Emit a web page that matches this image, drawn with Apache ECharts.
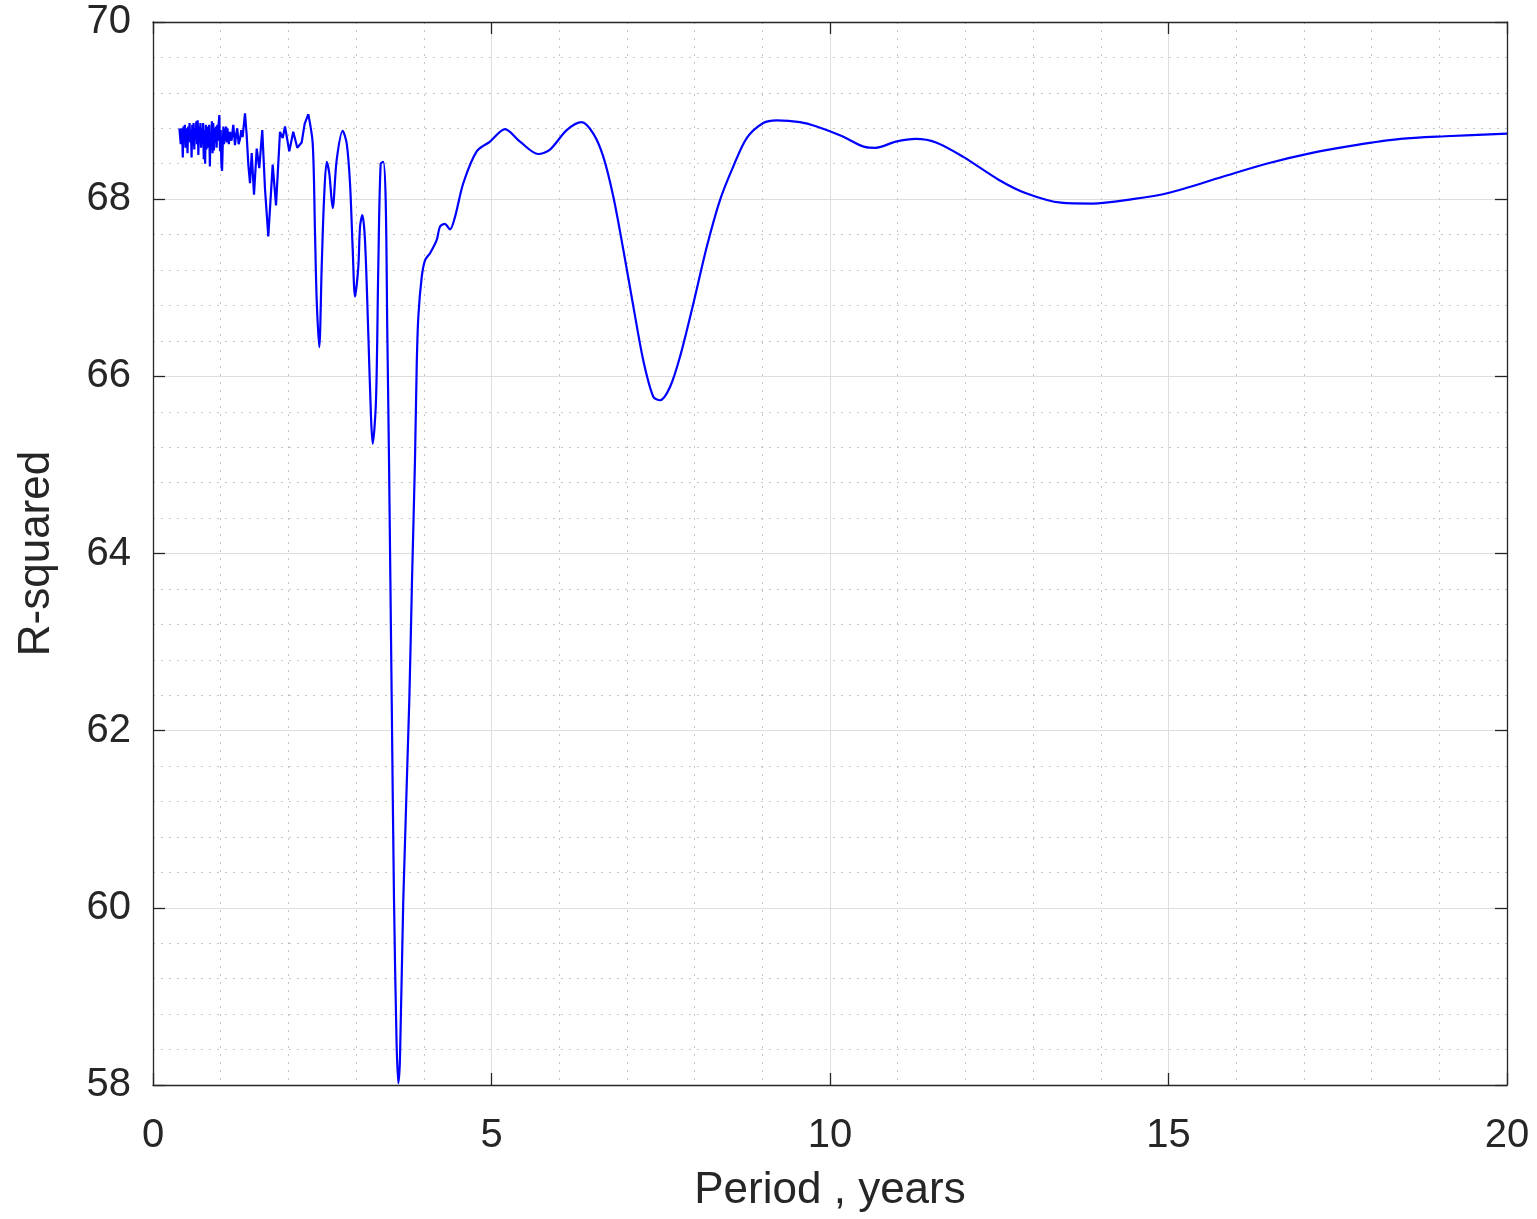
<!DOCTYPE html>
<html>
<head>
<meta charset="utf-8">
<script src="https://cdn.jsdelivr.net/npm/echarts@6/dist/echarts.min.js"></script>
<style>
html,body{margin:0;padding:0;background:#fff;}
#chart{width:1537px;height:1219px;}
</style>
</head>
<body>
<div id="chart"></div>
<script>
// Short-period (noisy) part of the curve: period (years) and R-squared
const noisyPeriod = [0.39,0.40,0.41,0.42,0.43,0.44,0.45,0.46,0.47,0.48,0.49,0.50,0.51,0.52,0.53,0.54,0.55,0.56,0.57,0.58,0.59,0.60,0.61,0.62,0.63,0.64,0.65,0.66,0.67,0.68,0.69,0.70,0.71,0.72,0.73,0.74,0.75,0.76,0.77,0.78,0.79,0.80,0.81,0.82,0.83,0.84,0.85,0.86,0.87,0.88,0.89,0.90,0.91,0.92,0.93,0.94,0.95,0.96,0.97,0.98,0.99,1.00,1.01,1.02,1.03,1.04,1.05,1.06,1.07,1.08,1.09,1.10,1.11,1.12,1.137,1.16,1.186,1.211,1.23,1.245,1.265,1.285,1.305,1.324,1.359,1.384,1.408,1.433,1.458,1.492,1.532,1.570,1.614,1.654,1.703,1.768,1.817,1.876,1.916,1.950,2.013,2.072,2.131,2.196,2.24,2.294];
const noisyR2 = [68.80,68.78,68.62,68.80,68.76,68.47,68.82,68.70,68.84,68.58,68.80,68.74,68.52,68.82,68.66,68.86,68.64,68.78,68.47,68.84,68.60,68.86,68.56,68.80,68.70,68.88,68.62,68.89,68.50,68.82,68.64,68.86,68.58,68.80,68.66,68.86,68.45,68.78,68.40,68.84,68.56,68.82,68.68,68.58,68.84,68.37,68.76,68.62,68.88,68.52,68.86,68.55,68.80,68.64,68.82,68.58,68.84,68.66,68.86,68.95,68.54,68.78,68.40,68.32,68.60,68.82,68.62,68.80,68.66,68.82,68.64,68.80,68.70,68.62,68.76,68.66,68.84,68.61,68.74,68.80,68.62,68.68,68.78,68.70,68.97,68.72,68.39,68.18,68.52,68.05,68.57,68.35,68.78,68.12,67.58,68.39,67.93,68.76,68.69,68.82,68.54,68.76,68.58,68.64,68.85,68.96];
// Longer-period (smooth) part of the curve
const smoothPeriod = [2.294,2.359,2.393,2.418,2.456,2.492,2.526,2.566,2.604,2.654,2.713,2.802,2.861,2.910,2.950,2.984,3.033,3.058,3.092,3.131,3.180,3.220,3.245,3.294,3.328,3.363,3.402,3.437,3.461,3.486,3.526,3.560,3.597,3.623,3.648,3.697,3.786,3.826,3.870,3.895,3.919,3.969,4.018,4.092,4.191,4.239,4.31,4.387,4.461,4.583,4.781,4.978,5.199,5.421,5.691,5.864,6.111,6.332,6.504,6.651,6.799,6.947,7.095,7.242,7.390,7.489,7.637,7.784,7.981,8.179,8.375,8.572,8.770,9.015,9.213,9.557,9.803,10.182,10.511,10.677,10.973,11.270,11.566,11.963,12.490,12.886,13.412,13.874,14.468,14.996,15.787,16.446,17.105,17.765,18.426,19.084,20.0];
const smoothR2 = [68.96,68.63,67.62,66.86,66.33,67.24,67.99,68.42,68.29,67.90,68.44,68.77,68.63,68.18,67.43,66.90,67.24,67.69,67.82,67.54,66.49,65.54,65.24,65.73,67.24,68.40,68.42,67.99,66.49,65.06,62.35,60.09,58.51,58.02,58.30,60.09,62.35,63.70,65.06,66.11,66.67,67.12,67.31,67.39,67.54,67.69,67.72,67.66,67.80,68.18,68.54,68.65,68.79,68.65,68.51,68.56,68.78,68.87,68.74,68.48,68.03,67.43,66.79,66.18,65.77,65.73,65.88,66.22,66.82,67.46,67.99,68.37,68.69,68.86,68.89,68.87,68.82,68.71,68.59,68.58,68.65,68.68,68.64,68.48,68.22,68.07,67.96,67.95,68.00,68.07,68.25,68.40,68.52,68.61,68.68,68.71,68.74];
const xTicks = [0,5,10,15,20];
const yTicks = [58,60,62,64,66,68,70];
const xTitle = 'Period , years';
const yTitle = 'R-squared';

const zip = (a,b) => a.map((v,i)=>[v,b[i]]);
const axisColor = '#262626';
const font = 'Liberation Sans, Arial, Helvetica, sans-serif';
const majorGrid = {show:true, lineStyle:{color:'#dedede', width:1, type:'solid'}};
const minorGrid = {show:true, lineStyle:{color:'#c4c4c4', width:1, type:[2,6]}};

const chart = echarts.init(document.getElementById('chart'), null, {renderer:'canvas'});
const xBase = {
  type:'value', min:xTicks[0], max:xTicks[xTicks.length-1], interval:xTicks[1]-xTicks[0],
  axisLine:{show:true, onZero:false, lineStyle:{color:axisColor, width:1.3}},
  axisTick:{show:true, inside:true, length:12, lineStyle:{color:axisColor, width:1.3}},
  minorTick:{show:false, splitNumber:5},
};
const yBase = {
  type:'value', min:yTicks[0], max:yTicks[yTicks.length-1], interval:yTicks[1]-yTicks[0],
  axisLine:{show:true, onZero:false, lineStyle:{color:axisColor, width:1.3}},
  axisTick:{show:true, inside:true, length:12, lineStyle:{color:axisColor, width:1.3}},
  minorTick:{show:false, splitNumber:5},
};
chart.setOption({
  animation:false,
  backgroundColor:'#ffffff',
  grid:{left:153, right:30, top:22, bottom:134, containLabel:false},
  xAxis:[
    Object.assign({}, xBase, {
      position:'bottom',
      name:xTitle, nameLocation:'middle', nameGap:84,
      nameTextStyle:{fontFamily:font, fontSize:44, color:axisColor},
      axisLabel:{show:true, margin:31, fontFamily:font, fontSize:40, color:axisColor},
      splitLine:majorGrid,
      minorSplitLine:minorGrid,
    }),
    Object.assign({}, xBase, {
      position:'top', axisLabel:{show:false}, splitLine:{show:false}, minorSplitLine:{show:false}
    })
  ],
  yAxis:[
    Object.assign({}, yBase, {
      position:'left',
      name:yTitle, nameLocation:'middle', nameGap:94, nameRotate:90,
      nameTextStyle:{fontFamily:font, fontSize:44, color:axisColor},
      axisLabel:{show:true, margin:22, fontFamily:font, fontSize:40, color:axisColor, padding:[6,0,0,0]},
      splitLine:majorGrid,
      minorSplitLine:minorGrid,
    }),
    Object.assign({}, yBase, {
      position:'right', axisLabel:{show:false}, splitLine:{show:false}, minorSplitLine:{show:false}
    })
  ],
  series:[
    {type:'line', xAxisIndex:0, yAxisIndex:0, data:zip(noisyPeriod, noisyR2), showSymbol:false, smooth:false,
     lineStyle:{color:'#0000ff', width:2.2}, clip:true},
    {type:'line', xAxisIndex:0, yAxisIndex:0, data:zip(smoothPeriod, smoothR2), showSymbol:false, smooth:0.3,
     lineStyle:{color:'#0000ff', width:2.2}, clip:true}
  ]
});
</script>
</body>
</html>
